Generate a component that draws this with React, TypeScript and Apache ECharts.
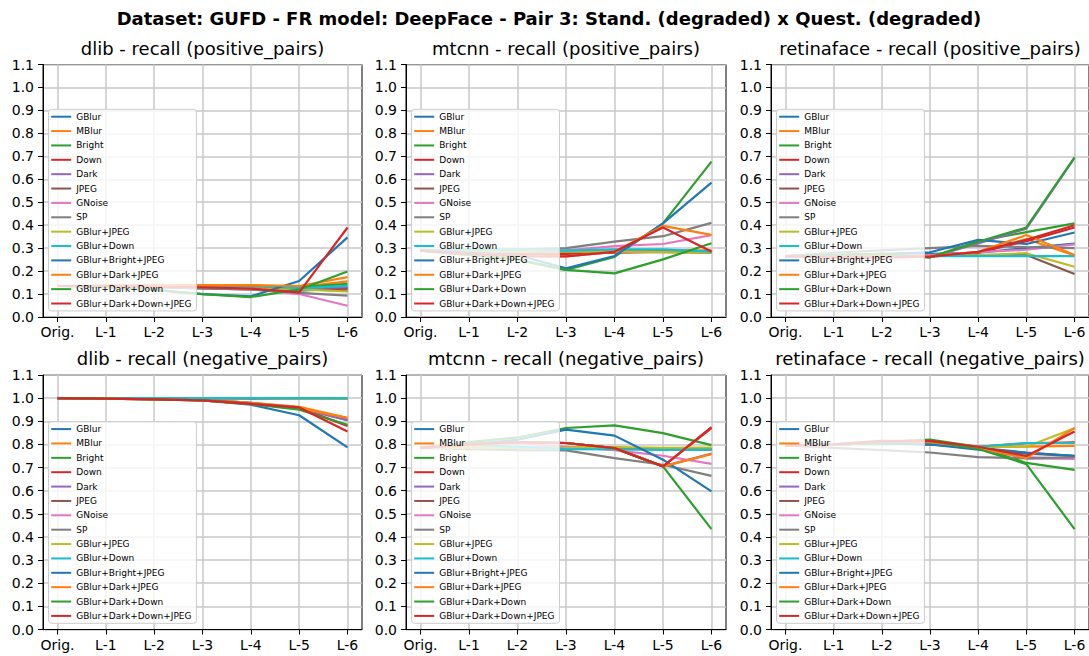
import React, { useEffect, useRef } from 'react';
import * as echarts from 'echarts';

const levels = ['Orig.', 'L-1', 'L-2', 'L-3', 'L-4', 'L-5', 'L-6'];
const levelPositions = [0, 1, 2, 3, 4, 5, 6];

const degradations = [
  'GBlur', 'MBlur', 'Bright', 'Down', 'Dark', 'JPEG', 'GNoise', 'SP',
  'GBlur+JPEG', 'GBlur+Down', 'GBlur+Bright+JPEG', 'GBlur+Dark+JPEG',
  'GBlur+Dark+Down', 'GBlur+Dark+Down+JPEG',
];

const palette = [
  '#1f77b4', '#ff7f0e', '#2ca02c', '#d62728', '#9467bd', '#8c564b', '#e377c2',
  '#7f7f7f', '#bcbd22', '#17becf', '#1f77b4', '#ff7f0e', '#2ca02c', '#d62728',
];

const suptitle = 'Dataset: GUFD - FR model: DeepFace - Pair 3: Stand. (degraded) x Quest. (degraded)';

const panelTitles = [
  'dlib - recall (positive_pairs)',
  'mtcnn - recall (positive_pairs)',
  'retinaface - recall (positive_pairs)',
  'dlib - recall (negative_pairs)',
  'mtcnn - recall (negative_pairs)',
  'retinaface - recall (negative_pairs)',
];

// one row per degradation, one value per level (Orig., L-1 ... L-6)
const dlibPositive = [
  [0.135, 0.135, 0.13, 0.125, 0.12, 0.115, 0.125],
  [0.135, 0.135, 0.135, 0.135, 0.135, 0.13, 0.155],
  [0.135, 0.135, 0.135, 0.135, 0.135, 0.13, 0.144],
  [0.135, 0.135, 0.135, 0.13, 0.125, 0.12, 0.125],
  [0.135, 0.135, 0.135, 0.135, 0.13, 0.125, 0.13],
  [0.135, 0.135, 0.13, 0.13, 0.125, 0.12, 0.115],
  [0.135, 0.135, 0.13, 0.125, 0.12, 0.1, 0.049],
  [0.135, 0.135, 0.13, 0.125, 0.12, 0.105, 0.093],
  [0.135, 0.135, 0.135, 0.13, 0.125, 0.12, 0.111],
  [0.135, 0.135, 0.138, 0.138, 0.138, 0.125, 0.136],
  [0.135, 0.13, 0.118, 0.1, 0.09, 0.157, 0.347],
  [0.135, 0.138, 0.14, 0.139, 0.139, 0.135, 0.174],
  [0.135, 0.13, 0.118, 0.1, 0.087, 0.12, 0.198],
  [0.135, 0.135, 0.132, 0.129, 0.124, 0.107, 0.39],
];

const mtcnnPositive = [
  [0.289, 0.285, 0.285, 0.285, 0.285, 0.285, 0.283],
  [0.289, 0.285, 0.283, 0.283, 0.285, 0.29, 0.29],
  [0.289, 0.27, 0.25, 0.205, 0.262, 0.408, 0.677],
  [0.289, 0.28, 0.275, 0.275, 0.28, 0.285, 0.285],
  [0.289, 0.285, 0.285, 0.285, 0.285, 0.285, 0.285],
  [0.289, 0.285, 0.283, 0.283, 0.283, 0.283, 0.28],
  [0.289, 0.285, 0.285, 0.29, 0.309, 0.318, 0.357],
  [0.289, 0.29, 0.295, 0.3, 0.328, 0.352, 0.41],
  [0.289, 0.285, 0.285, 0.285, 0.285, 0.283, 0.28],
  [0.289, 0.295, 0.295, 0.289, 0.295, 0.295, 0.285],
  [0.289, 0.28, 0.27, 0.212, 0.266, 0.408, 0.585],
  [0.289, 0.275, 0.265, 0.264, 0.284, 0.397, 0.358],
  [0.289, 0.27, 0.25, 0.205, 0.19, 0.251, 0.321],
  [0.289, 0.275, 0.265, 0.264, 0.284, 0.39, 0.285],
];

const retinafacePositive = [
  [0.265, 0.265, 0.27, 0.275, 0.28, 0.3, 0.32],
  [0.265, 0.265, 0.265, 0.265, 0.28, 0.34, 0.268],
  [0.265, 0.27, 0.275, 0.26, 0.33, 0.37, 0.408],
  [0.265, 0.26, 0.26, 0.263, 0.28, 0.33, 0.39],
  [0.265, 0.27, 0.275, 0.26, 0.32, 0.385, 0.693],
  [0.265, 0.265, 0.265, 0.265, 0.27, 0.27, 0.187],
  [0.265, 0.265, 0.27, 0.27, 0.282, 0.293, 0.316],
  [0.265, 0.28, 0.29, 0.3, 0.31, 0.304, 0.3],
  [0.265, 0.265, 0.265, 0.265, 0.27, 0.278, 0.219],
  [0.265, 0.265, 0.265, 0.265, 0.265, 0.265, 0.265],
  [0.265, 0.27, 0.275, 0.282, 0.336, 0.318, 0.368],
  [0.265, 0.265, 0.265, 0.265, 0.284, 0.357, 0.27],
  [0.265, 0.27, 0.275, 0.26, 0.328, 0.39, 0.695],
  [0.265, 0.26, 0.26, 0.263, 0.284, 0.336, 0.4],
];

const dlibNegative = [
  [1, 1, 1, 0.995, 0.98, 0.96, 0.905],
  [1, 1, 1, 0.995, 0.98, 0.962, 0.915],
  [1, 1, 1, 1, 1, 1, 1],
  [1, 1, 0.998, 0.993, 0.975, 0.958, 0.88],
  [1, 1, 0.998, 0.99, 0.975, 0.955, 0.905],
  [1, 1, 1, 1, 0.998, 0.998, 0.998],
  [1, 1, 1, 1, 1, 0.998, 0.998],
  [1, 1, 1, 1, 1, 1, 0.998],
  [1, 1, 1, 1, 1, 0.998, 0.998],
  [1, 1, 1, 1, 1, 1, 1],
  [1, 0.998, 0.995, 0.99, 0.972, 0.926, 0.787],
  [1, 0.998, 0.995, 0.99, 0.975, 0.957, 0.914],
  [1, 0.998, 0.995, 0.99, 0.975, 0.95, 0.885],
  [1, 0.998, 0.995, 0.99, 0.975, 0.96, 0.856],
];

const mtcnnNegative = [
  [0.785, 0.785, 0.785, 0.785, 0.785, 0.78, 0.78],
  [0.785, 0.785, 0.785, 0.785, 0.785, 0.78, 0.78],
  [0.785, 0.81, 0.83, 0.871, 0.882, 0.849, 0.797],
  [0.785, 0.8, 0.81, 0.806, 0.784, 0.705, 0.87],
  [0.785, 0.8, 0.81, 0.806, 0.784, 0.705, 0.76],
  [0.785, 0.785, 0.785, 0.785, 0.785, 0.78, 0.78],
  [0.785, 0.8, 0.805, 0.79, 0.775, 0.751, 0.716],
  [0.785, 0.78, 0.775, 0.774, 0.741, 0.712, 0.664],
  [0.785, 0.785, 0.785, 0.785, 0.788, 0.785, 0.786],
  [0.785, 0.8, 0.79, 0.78, 0.778, 0.776, 0.776],
  [0.785, 0.8, 0.82, 0.864, 0.838, 0.734, 0.597],
  [0.785, 0.8, 0.81, 0.806, 0.784, 0.705, 0.758],
  [0.785, 0.8, 0.81, 0.806, 0.784, 0.705, 0.434],
  [0.785, 0.8, 0.81, 0.806, 0.784, 0.705, 0.875],
];

const retinafaceNegative = [
  [0.795, 0.8, 0.805, 0.8, 0.785, 0.765, 0.75],
  [0.795, 0.8, 0.805, 0.805, 0.79, 0.79, 0.794],
  [0.795, 0.8, 0.81, 0.821, 0.79, 0.72, 0.69],
  [0.795, 0.8, 0.805, 0.81, 0.79, 0.805, 0.809],
  [0.795, 0.8, 0.805, 0.81, 0.785, 0.74, 0.74],
  [0.795, 0.8, 0.805, 0.8, 0.785, 0.76, 0.75],
  [0.795, 0.8, 0.815, 0.805, 0.785, 0.745, 0.737],
  [0.795, 0.785, 0.775, 0.765, 0.745, 0.74, 0.745],
  [0.795, 0.8, 0.805, 0.81, 0.79, 0.79, 0.87],
  [0.795, 0.8, 0.805, 0.805, 0.79, 0.806, 0.806],
  [0.795, 0.8, 0.805, 0.8, 0.777, 0.763, 0.751],
  [0.795, 0.8, 0.81, 0.81, 0.785, 0.741, 0.871],
  [0.795, 0.8, 0.81, 0.815, 0.78, 0.715, 0.434],
  [0.795, 0.8, 0.815, 0.815, 0.79, 0.75, 0.856],
];

const panels = [dlibPositive, mtcnnPositive, retinafacePositive, dlibNegative, mtcnnNegative, retinafaceNegative];

const FONT = 'DejaVu Sans';

export default function App() {
  const ref = useRef<HTMLDivElement>(null);

  useEffect(() => {
    if (!ref.current) return;
    const chart = echarts.init(ref.current, null, { renderer: 'svg' });

    const colLeft = [43, 406, 771];
    const colWidth = [319, 320, 318];
    const rowTop = [64.5, 375];
    const rowHeight = [252.5, 254.5];
    const legendTop = [109.3, 421.7];

    const grids: any[] = [];
    const xAxes: any[] = [];
    const yAxes: any[] = [];
    const legends: any[] = [];
    const series: any[] = [];
    const graphics: any[] = [];

    graphics.push({
      type: 'text',
      x: 549,
      y: 18,
      style: {
        text: suptitle,
        font: `bold 18px "${FONT}"`,
        fill: '#000',
        textAlign: 'center',
        textVerticalAlign: 'middle',
        align: 'center',
        verticalAlign: 'middle',
      },
    });

    panels.forEach((rows, p) => {
      const r = Math.floor(p / 3);
      const c = p % 3;
      grids.push({
        left: colLeft[c],
        top: rowTop[r],
        width: colWidth[c],
        height: rowHeight[r],
        show: true,
        borderColor: '#000',
        borderWidth: 1,
        backgroundColor: 'transparent',
        containLabel: false,
      });
      xAxes.push({
        type: 'value',
        gridIndex: p,
        min: -0.3,
        max: 6.3,
        splitNumber: 7,
        axisLine: { show: true, onZero: false, lineStyle: { color: '#000', width: 1 } },
        axisTick: { show: true, length: 5, lineStyle: { color: '#000' }, customValues: levelPositions },
        axisLabel: {
          show: true,
          margin: 8,
          fontSize: 14,
          fontFamily: FONT,
          color: '#000',
          customValues: levelPositions,
          formatter: (v: number) => {
            const i = Math.round(v);
            return Math.abs(v - i) < 1e-6 && levels[i] !== undefined ? levels[i] : '';
          },
        },
        splitLine: { show: true, lineStyle: { color: '#c8c8c8', width: 1.5 } },
      });
      yAxes.push({
        type: 'value',
        gridIndex: p,
        min: 0,
        max: 1.1,
        interval: 0.1,
        axisLine: { show: true, onZero: false, lineStyle: { color: '#000', width: 1 } },
        axisTick: { show: true, length: 5, lineStyle: { color: '#000' } },
        axisLabel: {
          margin: 9,
          fontSize: 14,
          fontFamily: FONT,
          color: '#000',
          formatter: (v: number) => v.toFixed(1),
        },
        splitLine: { show: true, lineStyle: { color: '#c8c8c8', width: 1.5 } },
      });
      legends.push({
        orient: 'vertical',
        left: colLeft[c] + 5.5,
        top: legendTop[r],
        data: degradations,
        icon: 'rect',
        itemWidth: 20,
        itemHeight: 2,
        itemGap: 4.37,
        padding: [2.4, 5, 2.4, 2.7],
        backgroundColor: 'rgba(255,255,255,0.8)',
        borderColor: '#cccccc',
        borderWidth: 1,
        borderRadius: 3,
        selectedMode: false,
        textStyle: { fontSize: 9, fontFamily: FONT, color: '#000', lineHeight: 10 },
      });
      graphics.push({
        type: 'text',
        x: colLeft[c] + colWidth[c] / 2,
        y: r === 0 ? 48 : 358,
        style: {
          text: panelTitles[p],
          font: `18px "${FONT}"`,
          fill: '#000',
          textAlign: 'center',
          textVerticalAlign: 'middle',
          align: 'center',
          verticalAlign: 'middle',
        },
      });
      rows.forEach((vals, d) => {
        series.push({
          type: 'line',
          name: degradations[d],
          xAxisIndex: p,
          yAxisIndex: p,
          data: vals.map((v, i) => [levelPositions[i], v]),
          symbol: 'none',
          showSymbol: false,
          silent: true,
          lineStyle: { width: 2.2, color: palette[d] },
          itemStyle: { color: palette[d] },
          emphasis: { disabled: true },
        });
      });
    });

    chart.setOption({
      animation: false,
      textStyle: { fontFamily: FONT },
      grid: grids,
      xAxis: xAxes,
      yAxis: yAxes,
      legend: legends,
      series,
      graphic: graphics,
    });

    return () => chart.dispose();
  }, []);

  return (
    <div
      ref={ref}
      style={{ position: 'absolute', left: 0, top: 0, width: 1089, height: 656, background: '#fff' }}
    />
  );
}
